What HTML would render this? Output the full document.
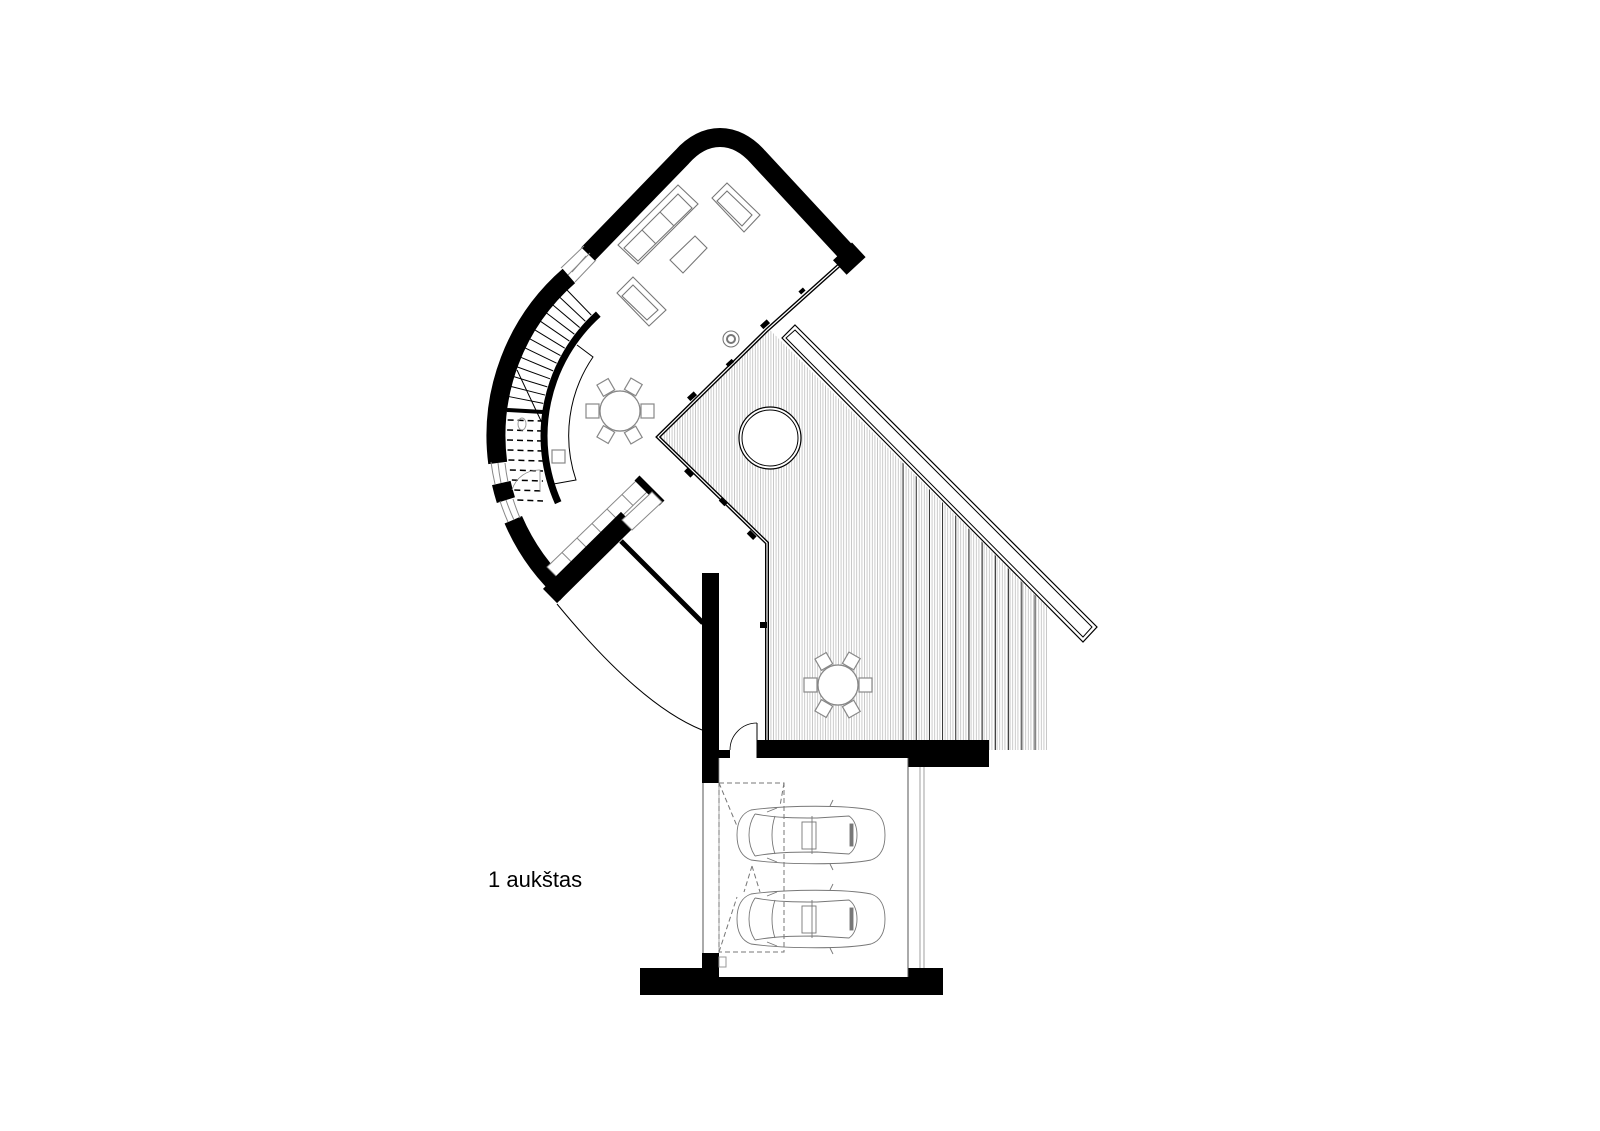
<!DOCTYPE html>
<html><head><meta charset="utf-8"><style>
html,body{margin:0;padding:0;background:#fff;}
svg{display:block}
</style></head><body>
<svg id="s" width="1600" height="1131" viewBox="0 0 1600 1131" xmlns="http://www.w3.org/2000/svg">
<defs>
<pattern id="hatch" width="2.6" height="10" patternUnits="userSpaceOnUse">
<line x1="1.3" y1="0" x2="1.3" y2="10" stroke="#b5b5b5" stroke-width="0.7"/>
</pattern>
<clipPath id="terr"><polygon points="770,330 658,437 767,543 767,740 989,740 989,750 1048,750 1048,608"/></clipPath>
<g id="chairs" fill="#fff" stroke="#888" stroke-width="1.2">
<circle cx="0" cy="0" r="20"/>
<rect x="-34" y="-7" width="13" height="14"/>
<rect x="21" y="-7" width="13" height="14"/>
<rect x="-7" y="-34" width="13" height="13" transform="rotate(-30)"/>
<rect x="-7" y="-34" width="13" height="13" transform="rotate(30)"/>
<rect x="-7" y="21" width="13" height="13" transform="rotate(-30)"/>
<rect x="-7" y="21" width="13" height="13" transform="rotate(30)"/>
<circle cx="0" cy="0" r="20"/>
</g>
<g id="car" fill="none" stroke="#777" stroke-width="0.9">
<path d="M14,4 C50,-1 110,-1 134,4 C146,8 148,20 148,29 C148,38 146,50 134,54 C110,59 50,59 14,54 C3,50 0,40 0,29 C0,18 3,8 14,4 Z"/>
<path d="M18,8 C10,20 10,38 18,50"/>
<path d="M18,8 C40,12 60,12 80,12 L112,10 C118,14 120,22 120,29 C120,36 118,44 112,48 L80,46 C60,46 40,46 18,50"/>
<path d="M38,10 C34,22 34,36 38,48"/>
<line x1="75" y1="10" x2="75" y2="48"/>
<rect x="65" y="16" width="14" height="27"/>
<rect x="113" y="18" width="3" height="22" fill="#777"/>
<path d="M93,0 L96,-6 M93,58 L96,64"/>
<path d="M30,6 L40,2 M30,52 L40,56"/>
</g>
</defs>

<polygon points="770,330 658,437 767,543 767,740 989,740 989,750 1048,750 1048,608" fill="url(#hatch)"/>
<g id="coarse" clip-path="url(#terr)" stroke="#222" stroke-width="0.9"></g>

<path d="M845,260 L767,330 L658,437 L767,543 L767,742" fill="none" stroke="#000" stroke-width="4"/>
<path d="M845,260 L767,330 L658,437 L767,543 L767,742" fill="none" stroke="#fff" stroke-width="1.2"/>
<g fill="#000">
<rect x="799" y="289" width="6" height="4" transform="rotate(-42 802 291)"/>
<rect x="761" y="322" width="9" height="5" transform="rotate(-42 765 325)"/>
<rect x="726" y="361" width="8" height="4" transform="rotate(-42 730 363)"/>
<rect x="688" y="394" width="9" height="5" transform="rotate(-42 692 397)"/>
<rect x="685" y="470" width="9" height="5" transform="rotate(45 689 472)"/>
<rect x="719" y="500" width="8" height="4" transform="rotate(45 723 502)"/>
<rect x="747" y="532" width="9" height="5" transform="rotate(45 751 535)"/>
<rect x="760" y="622" width="7" height="6"/>
</g>

<polygon points="795,325 1097,627 1083,642 782,338" fill="#fff" stroke="#000" stroke-width="1.2"/>
<polygon points="795,330 1092,627 1083,637 786,338" fill="none" stroke="#000" stroke-width="1"/>

<circle cx="770" cy="438" r="31" fill="#fff" stroke="#000" stroke-width="1.2"/>
<circle cx="770" cy="438" r="28" fill="none" stroke="#000" stroke-width="1"/>

<path d="M588,254 L682,157 C705,131 735,131 758,157 L848,254" fill="none" stroke="#000" stroke-width="19"/>
<polygon points="865.6,257.1 846.6,274.8 833,260.2 852,242.5" fill="#000"/>
<g stroke="#888" stroke-width="1" fill="none">
<line x1="561" y1="268" x2="584" y2="246"/><line x1="575" y1="282" x2="596" y2="260"/>
<line x1="568" y1="275" x2="590" y2="253"/><line x1="572" y1="272" x2="586" y2="256"/>
</g>

<g fill="none" stroke="#000" stroke-width="19">
<path d="M568.9,275.9 A212 212 0 0 0 497.7,462.9"/>
<path d="M501.3,483.0 A212 212 0 0 0 505.9,500.1"/>
<path d="M513.3,519.8 A212 212 0 0 0 566.2,593.5"/>
</g>
<g fill="none" stroke="#888" stroke-width="1">
<path d="M491,462 A218 218 0 0 0 495,484"/><path d="M505,463 A204 204 0 0 0 508,482"/>
<path d="M498,463 A211 211 0 0 0 501,483"/>
<path d="M500,501 A218 218 0 0 0 508,522"/><path d="M513,499 A204 204 0 0 0 520,518"/>
<path d="M506,500 A211 211 0 0 0 514,520"/>
</g>

<path d="M598.3,314.1 A164 164 0 0 0 558.2,502.7" fill="none" stroke="#000" stroke-width="7"/>
<path d="M577,345 L593,357 A139 139 0 0 0 576,480 L548,485" fill="none" stroke="#000" stroke-width="1"/>
<rect x="552" y="450" width="13" height="13" fill="none" stroke="#888" stroke-width="1.2"/>
<g id="treads" stroke="#000" stroke-width="1"></g>
<line x1="507" y1="410" x2="543" y2="412" stroke="#000" stroke-width="4"/>
<line x1="517" y1="370" x2="542" y2="423" stroke="#000" stroke-width="1"/>
<ellipse cx="522" cy="424" rx="4" ry="6" fill="none" stroke="#999" stroke-width="1"/>
<path d="M512,490 A28 28 0 0 1 540,470 L540,492" fill="none" stroke="#888" stroke-width="0.8"/>

<polygon points="547,567 637,480 648,491 558,578" fill="#fff" stroke="#888" stroke-width="1"/>
<g id="lst" stroke="#888" stroke-width="1"></g>
<line x1="550" y1="596" x2="628" y2="519" stroke="#000" stroke-width="20"/>
<line x1="620" y1="530" x2="646" y2="503" stroke="#000" stroke-width="7"/>
<line x1="637" y1="478" x2="662" y2="503" stroke="#000" stroke-width="7"/>
<polygon points="622,520 652,492 662,502 632,530" fill="#fff" stroke="#888" stroke-width="1"/>
<line x1="621" y1="541" x2="703" y2="623" stroke="#000" stroke-width="5"/>
<path d="M557,604 Q640,705 702,730" fill="none" stroke="#000" stroke-width="1"/>

<g fill="none" stroke="#777" stroke-width="1.1">
<polygon points="618,245 678,185 698,204 638,264"/>
<polygon points="624,248 678,194 692,208 638,261"/>
<line x1="642" y1="230" x2="656" y2="244"/><line x1="660" y1="212" x2="674" y2="226"/>
<polygon points="712,198 727,183 760,215 744,232"/>
<polygon points="717,201 727,191 752,215 742,226"/>
<polygon points="670,260 695,236 707,248 683,273"/>
<polygon points="617,293 633,277 666,310 649,326"/>
<polygon points="622,296 633,285 658,310 647,320"/>
<circle cx="731" cy="339" r="8"/>
<circle cx="731" cy="339" r="4" stroke-width="2"/>
</g>
<use href="#chairs" x="620" y="411"/>
<use href="#chairs" x="838" y="685"/>

<rect x="702" y="573" width="17" height="210" fill="#000"/>
<rect x="719" y="750" width="11" height="8" fill="#000"/>
<path d="M730,750 A27 27 0 0 1 757,723" fill="none" stroke="#000" stroke-width="0.8"/>
<line x1="757" y1="723" x2="757" y2="758" stroke="#000" stroke-width="1"/>
<rect x="757" y="740" width="151" height="18" fill="#000"/>
<rect x="908" y="740" width="81" height="27" fill="#000"/>

<rect x="640" y="968" width="303" height="27" fill="#000"/>
<rect x="719" y="758" width="189" height="219" fill="#fff"/>
<rect x="702" y="953" width="17" height="16" fill="#000"/>
<line x1="703" y1="783" x2="703" y2="953" stroke="#555" stroke-width="1"/>
<line x1="719" y1="758" x2="719" y2="953" stroke="#999" stroke-width="0.8"/>
<line x1="908" y1="758" x2="908" y2="977" stroke="#555" stroke-width="1"/>
<line x1="920" y1="767" x2="920" y2="968" stroke="#888" stroke-width="0.8"/>
<line x1="924" y1="767" x2="924" y2="968" stroke="#888" stroke-width="0.8"/>
<g fill="none" stroke="#777" stroke-width="1" stroke-dasharray="5,3">
<rect x="719" y="783" width="65" height="169"/>
<path d="M719,783 L737,826 M784,783 L780,806 M752,866 L760,892 M752,866 L744,892 M719,952 L737,897"/>
</g>
<rect x="719" y="957" width="7" height="10" fill="none" stroke="#999" stroke-width="1"/>
<use href="#car" x="737" y="806"/>
<use href="#car" x="737" y="890"/>

<text x="488" y="887" font-family="'Liberation Sans', sans-serif" font-size="22" fill="#000">1 aukštas</text>
</svg>
<script>
(function(){
var ns="http://www.w3.org/2000/svg";
function L(g,x1,y1,x2,y2,extra){var l=document.createElementNS(ns,"line");l.setAttribute("x1",x1);l.setAttribute("y1",y1);l.setAttribute("x2",x2);l.setAttribute("y2",y2);if(extra)for(var k in extra)l.setAttribute(k,extra[k]);g.appendChild(l);}
var cx=708,cy=436,t=document.getElementById("treads");
for(var a=226;a>=190;a-=2.9){var r=a*Math.PI/180;L(t,cx+168*Math.cos(r),cy+168*Math.sin(r),cx+203*Math.cos(r),cy+203*Math.sin(r));}
for(var y=420;y<=500;y+=10){var dx=Math.sqrt(203*203-(y-cy)*(y-cy));L(t,cx-dx+2,y,543,y+1,{"stroke-dasharray":"6,4","stroke-width":"1.5"});}
var c=document.getElementById("coarse");
for(var x=903;x<=1048;x+=13.2){L(c,x,300,x,760);}
var s=document.getElementById("lst");
for(var i=1;i<6;i++){var f=i/6;var x1=547+90*f,y1=567-87*f;L(s,x1,y1,x1+11,y1+11);}
})();
</script>
</body></html>
